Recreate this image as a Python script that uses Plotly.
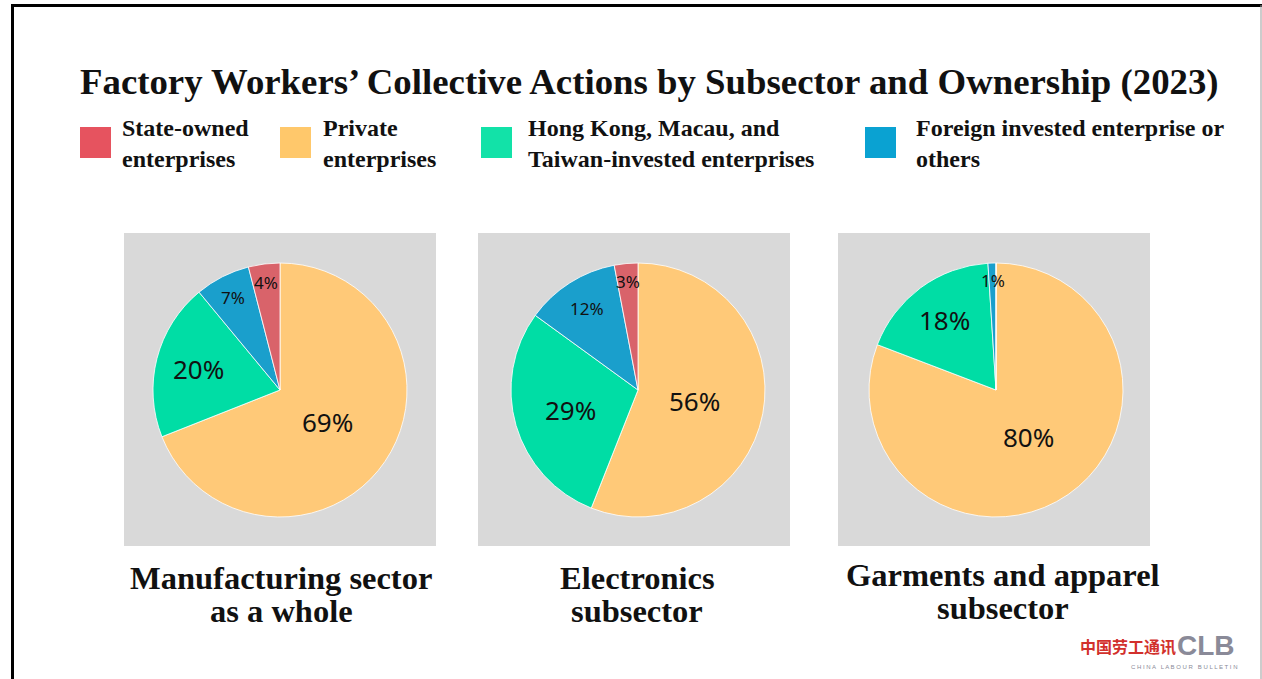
import math
import plotly.graph_objects as go

W, H = 1262, 679

# ---- data ----
categories = ["State-owned enterprises", "Private enterprises",
              "Hong Kong, Macau, and Taiwan-invested enterprises",
              "Foreign invested enterprise or others"]
legend_labels = ["State-owned<br>enterprises", "Private<br>enterprises",
                 "Hong Kong, Macau, and<br>Taiwan-invested enterprises",
                 "Foreign invested enterprise or<br>others"]
manufacturing = [4, 69, 20, 7]
electronics = [3, 56, 29, 12]
garments = [0, 80, 18, 1]
panel_titles = [["Manufacturing sector", "as a whole"], ["Electronics", "subsector"],
                ["Garments and apparel", "subsector"]]
title_text = "Factory Workers’ Collective Actions by Subsector and Ownership (2023)"

pie_colors = ["#D9636A", "#FFC978", "#00DDA5", "#1A9FCC"]
legend_colors = ["#E6535F", "#FFC86B", "#12E2A8", "#0AA2D2"]
slice_order = [1, 2, 3, 0]  # clockwise from 12 o'clock: private, HK/M/T, foreign, state

SERIF = "Liberation Serif, DejaVu Serif, serif"
SANS = "Noto Sans, Open Sans, sans-serif"


def px_x(x):
    return x / W


def px_y(y):
    return 1 - y / H


fig = go.Figure()

# panel geometry (pixels)
boxes = [(124, 233, 436, 546), (478, 233, 790, 546), (838, 233, 1150, 546)]
centers = [(280, 390), (638, 390), (996, 390)]
R = 127
series = [manufacturing, electronics, garments]

shapes = []
annotations = []

for (x0, y0, x1, y1) in boxes:
    shapes.append(dict(type="rect", xref="paper", yref="paper",
                       x0=px_x(x0), x1=px_x(x1), y0=px_y(y1), y1=px_y(y0),
                       fillcolor="#D9D9D9", line=dict(width=0), layer="below"))

for vals_raw, (cx, cy) in zip(series, centers):
    vals = [vals_raw[i] for i in slice_order]
    labs = [categories[i] for i in slice_order]
    cols = [pie_colors[i] for i in slice_order]
    fig.add_trace(go.Pie(
        labels=labs, values=vals, sort=False, direction="clockwise",
        rotation=0, textinfo="none",
        marker=dict(colors=cols, line=dict(color="rgba(255,255,255,0.8)", width=1)),
        domain=dict(x=[px_x(cx - R), px_x(cx + R)], y=[px_y(cy + R), px_y(cy - R)]),
        showlegend=False, hovertemplate="%{label}: %{value}%<extra></extra>",
    ))
    # data labels placed along each slice's bisector (derived from the values)
    total = sum(vals)
    cum = 0.0
    for v in vals:
        share = v / total
        start = cum
        cum += share
        if v == 0:
            continue
        theta = 2 * math.pi * (start + share / 2)  # clockwise from 12 o'clock
        frac = min(max(0.9 - 1.2 * share, 0.45), 0.86)
        lx = cx + frac * R * math.sin(theta)
        ly = cy - frac * R * math.cos(theta)
        annotations.append(dict(text=f"{v}%", x=px_x(lx), y=px_y(ly), xref="paper", yref="paper",
                                xanchor="center", yanchor="middle", showarrow=False,
                                font=dict(family=SANS, size=26 if share >= 0.15 else 17,
                                          color="#111111")))

# frame
shapes.append(dict(type="line", xref="paper", yref="paper", x0=px_x(12.5), x1=px_x(12.5),
                   y0=0, y1=px_y(5), line=dict(color="black", width=3)))
shapes.append(dict(type="line", xref="paper", yref="paper", x0=px_x(11), x1=1,
                   y0=px_y(5.5), y1=px_y(5.5), line=dict(color="black", width=3)))
shapes.append(dict(type="line", xref="paper", yref="paper", x0=px_x(1261), x1=px_x(1261),
                   y0=0, y1=px_y(5), line=dict(color="#999999", width=1)))


def add_text(txt, x, y, size, anchor="left", family=SERIF, color="#111111", bold=True):
    annotations.append(dict(text=f"<b>{txt}</b>" if bold else txt, x=px_x(x), y=px_y(y),
                            xref="paper", yref="paper", xanchor=anchor, yanchor="middle",
                            align="left" if anchor == "left" else "center",
                            showarrow=False, font=dict(family=family, size=size, color=color)))


# title
add_text(title_text, 649, 81, 36.8, anchor="center")

# legend
sq_x = [80, 280, 481, 865]
txt_x = [120, 321, 526, 914]
for lab, col, sx, tx in zip(legend_labels, legend_colors, sq_x, txt_x):
    shapes.append(dict(type="rect", xref="paper", yref="paper",
                       x0=px_x(sx), x1=px_x(sx + 31), y0=px_y(158), y1=px_y(127),
                       fillcolor=col, line=dict(width=0)))
    add_text(lab, tx, 143.5, 24)

# panel titles
for lines, cx, ty in zip(panel_titles, [281, 637, 1003], [578, 578, 575]):
    add_text(lines[0], cx, ty, 32.5, anchor="center")
    add_text(lines[1], cx, ty + 33, 32.5, anchor="center")

# logo
add_text("中国劳工通讯", 1128, 646, 16, anchor="center", family="Noto Sans CJK SC", color="#D2302C")
add_text("CLB", 1206, 645, 28, anchor="center", family="Liberation Sans, Arial, sans-serif",
         color="#8A8A98")
add_text("C H I N A   L A B O U R   B U L L E T I N", 1184, 667, 6, anchor="center",
         family="Liberation Sans, Arial, sans-serif", color="#8A8A98", bold=False)

fig.update_layout(
    width=W, height=H, margin=dict(l=0, r=0, t=0, b=0),
    paper_bgcolor="white", plot_bgcolor="white",
    shapes=shapes, annotations=annotations, showlegend=False,
)

fig.write_html("out.html")
